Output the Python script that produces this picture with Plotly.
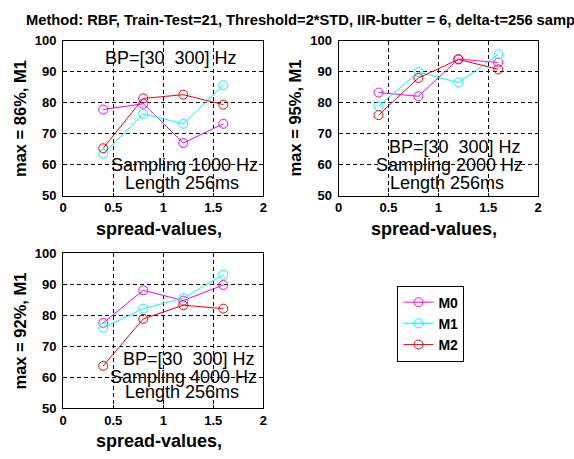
import plotly.graph_objects as go

W, H = 574, 459

spread = [0.4, 0.8, 1.2, 1.6]
series_names = ["M0", "M1", "M2"]
series_colors = ["#ff00ff", "#00ffff", "#ff0000"]

s1_m0 = [77.8, 79.7, 67.0, 73.2]
s1_m1 = [63.5, 76.4, 73.2, 85.7]
s1_m2 = [65.3, 81.4, 82.6, 79.4]

s2_m0 = [83.3, 82.1, 94.1, 93.0]
s2_m1 = [78.9, 89.9, 86.5, 95.6]
s2_m2 = [76.0, 88.0, 94.0, 90.8]

s3_m0 = [77.5, 88.0, 84.7, 89.7]
s3_m1 = [75.9, 82.1, 85.5, 93.0]
s3_m2 = [63.7, 78.8, 83.2, 82.1]

ylabels = ["max = 86%, M1", "max = 95%, M1", "max = 92%, M1"]
xlabel = "spread-values,"
title = "Method: RBF, Train-Test=21, Threshold=2*STD, IIR-butter = 6, delta-t=256 samples"
x_ticks = [0, 0.5, 1, 1.5, 2]
x_ticktext = ["0", "0.5", "1", "1.5", "2"]
y_ticks = [50, 60, 70, 80, 90, 100]

panel_texts = [
    [("BP=[30  300] Hz", 1.08, 94.4), ("Sampling 1000 Hz", 1.21, 60.0), ("Length 256ms", 1.19, 54.1)],
    [("BP=[30  300] Hz", 1.17, 65.6), ("Sampling 2000 Hz", 1.11, 60.0), ("Length 256ms", 1.09, 54.1)],
    [("BP=[30  300] Hz", 1.26, 65.8), ("Sampling 4000 Hz", 1.20, 60.2), ("Length 256ms", 1.19, 55.2)],
]

data = [[s1_m0, s1_m1, s1_m2], [s2_m0, s2_m1, s2_m2], [s3_m0, s3_m1, s3_m2]]

# panel pixel boxes: (left, right, top, bottom)
boxes = [(60, 263, 35, 195), (339.3, 541.7, 35, 195), (60, 263, 254.3, 415)]

FONT = "Liberation Sans, Arial, sans-serif"

fig = go.Figure()
for p in range(3):
    for i in range(3):
        fig.add_trace(go.Scatter(
            x=spread, y=data[p][i], mode="lines+markers",
            name=series_names[i], legendgroup=series_names[i], showlegend=(p == 0),
            line=dict(color=series_colors[i], width=1),
            marker=dict(symbol="circle-open", size=9, color=series_colors[i], line=dict(width=1)),
            xaxis="x" if p == 0 else f"x{p+1}", yaxis="y" if p == 0 else f"y{p+1}",
        ))

layout = dict(
    width=W, height=H, margin=dict(l=0, r=0, t=0, b=0),
    paper_bgcolor="white", plot_bgcolor="white",
    font=dict(family=FONT, color="black"),
    showlegend=True,
    legend=dict(x=399 / W, y=1 - 288 / H, xanchor="left", yanchor="top",
                bordercolor="black", borderwidth=1, bgcolor="white",
                font=dict(size=14, family=FONT, weight="bold"),
                tracegroupgap=0, itemwidth=30),
)

annotations = []
for p, (l, r, t, b) in enumerate(boxes):
    sx = "" if p == 0 else str(p + 1)
    common = dict(showline=True, linecolor="black", linewidth=1, mirror="ticks",
                  ticks="inside", ticklen=3, tickcolor="black",
                  showgrid=True, gridcolor="black", gridwidth=1, griddash="4px,3px",
                  zeroline=False, tickfont=dict(size=13, family=FONT, weight="bold"))
    layout[f"xaxis{sx}"] = dict(domain=[l / W, r / W], range=[0, 2], tickvals=x_ticks,
                                ticktext=x_ticktext, anchor=f"y{sx}", **common)
    layout[f"yaxis{sx}"] = dict(domain=[1 - b / H, 1 - t / H], range=[50, 100], tickvals=y_ticks,
                                anchor=f"x{sx}", ticklabelstandoff=3, **common)
    # y axis title
    annotations.append(dict(text=ylabels[p], xref="paper", yref="paper",
                            x=(l - 44) / W, y=1 - (t + b) / 2 / H, textangle=-90,
                            showarrow=False, xanchor="center", yanchor="middle",
                            font=dict(size=16.5, family=FONT, weight="bold")))
    # x axis title
    annotations.append(dict(text=xlabel, xref="paper", yref="paper",
                            x=((l + r) / 2 - 4) / W, y=1 - (b + 34) / H,
                            showarrow=False, xanchor="center", yanchor="middle",
                            font=dict(size=18, family=FONT, weight="bold")))
    for txt, tx, ty in panel_texts[p]:
        annotations.append(dict(text=txt, xref=f"x{sx}", yref=f"y{sx}", x=tx, y=ty,
                                showarrow=False, xanchor="center", yanchor="middle",
                                font=dict(size=18, family=FONT)))

annotations.append(dict(text=title, xref="paper", yref="paper", x=20 / W, y=1 - 13 / H,
                        showarrow=False, xanchor="left", yanchor="middle",
                        font=dict(size=14.7, family=FONT, weight="bold")))
layout["annotations"] = annotations
fig.update_layout(**layout)
fig.write_html("out.html")
